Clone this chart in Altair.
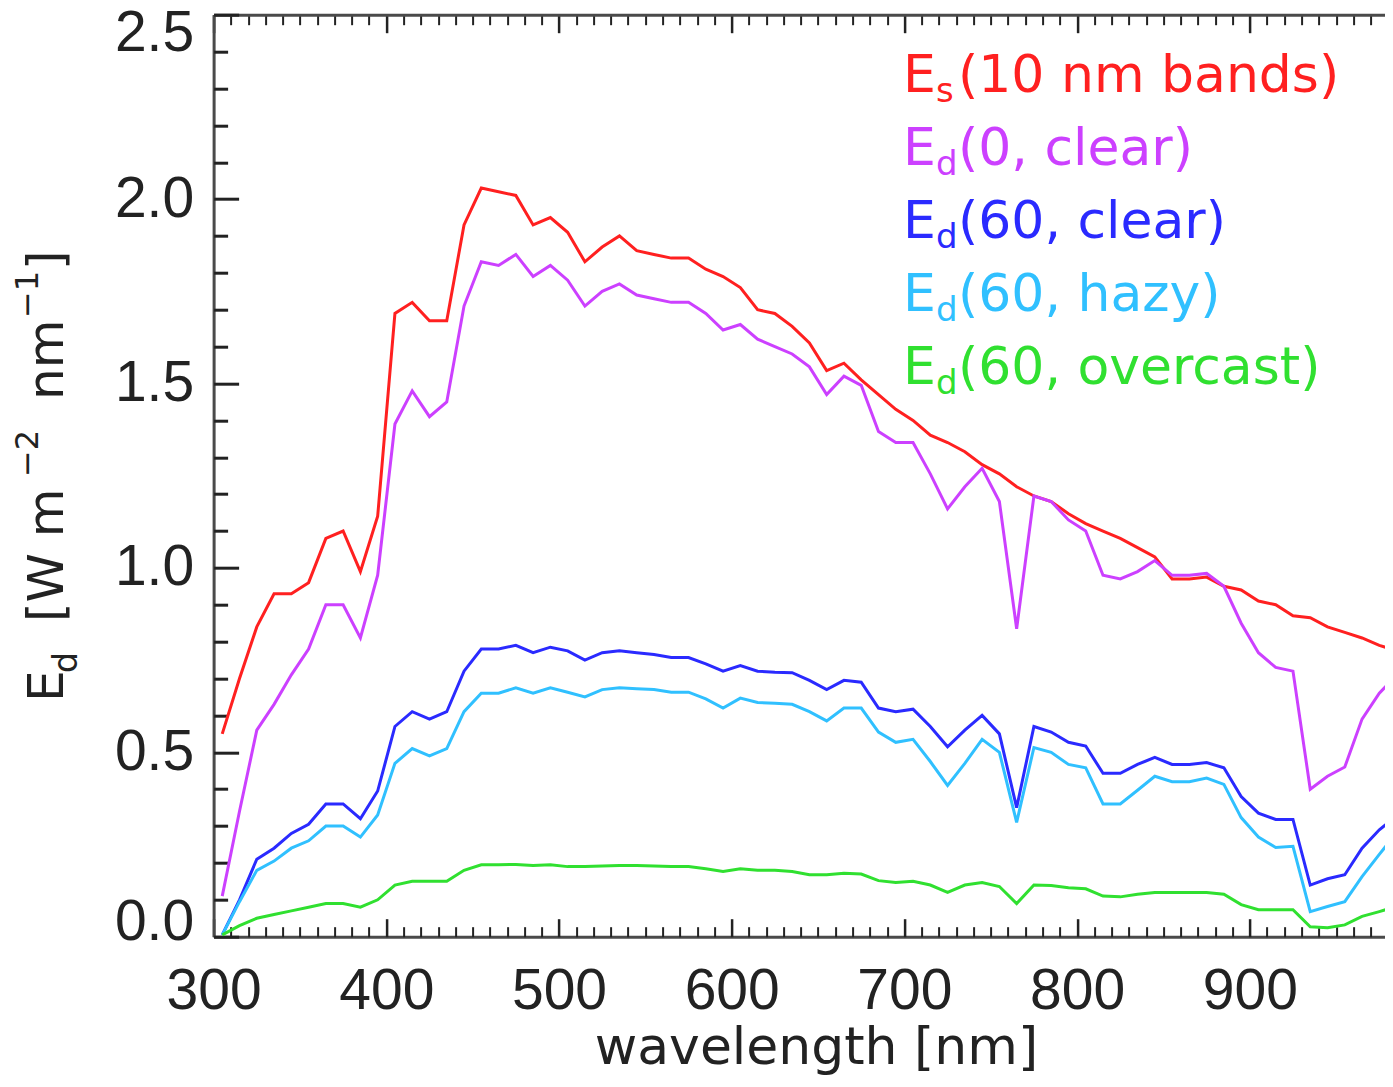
import altair as alt
import pandas as pd

# ---------------- data ----------------
wavelength = list(range(305, 986, 10))  # 10 nm band centres

es_10nm_bands = [0.55, 0.70, 0.84, 0.93, 0.93, 0.96, 1.08, 1.10, 0.99, 1.14,
                 1.69, 1.72, 1.67, 1.67, 1.93, 2.03, 2.02, 2.01, 1.93, 1.95,
                 1.91, 1.83, 1.87, 1.90, 1.86, 1.85, 1.84, 1.84, 1.81, 1.79,
                 1.76, 1.70, 1.69, 1.655, 1.61, 1.535, 1.555, 1.51, 1.47, 1.43,
                 1.40, 1.36, 1.34, 1.315, 1.28, 1.255, 1.22, 1.195, 1.18, 1.147,
                 1.12, 1.10, 1.08, 1.055, 1.03, 0.97, 0.97, 0.975, 0.95, 0.94,
                 0.91, 0.90, 0.87, 0.865, 0.84, 0.825, 0.81, 0.79, 0.775]

ed_0_clear = [0.11, 0.34, 0.56, 0.63, 0.71, 0.78, 0.90, 0.90, 0.81, 0.98,
              1.39, 1.48, 1.41, 1.45, 1.71, 1.83, 1.82, 1.85, 1.79, 1.82,
              1.78, 1.71, 1.75, 1.77, 1.74, 1.73, 1.72, 1.72, 1.69, 1.645,
              1.66, 1.62, 1.60, 1.58, 1.545, 1.47, 1.52, 1.495, 1.37, 1.34,
              1.34, 1.255, 1.16, 1.22, 1.27, 1.18, 0.835, 1.195, 1.18, 1.13,
              1.10, 0.98, 0.97, 0.99, 1.02, 0.98, 0.98, 0.985, 0.95, 0.85,
              0.77, 0.73, 0.72, 0.40, 0.435, 0.46, 0.59, 0.66, 0.71]

ed_60_clear = [0.005, 0.10, 0.21, 0.24, 0.28, 0.305, 0.36, 0.36, 0.32, 0.395,
               0.57, 0.61, 0.59, 0.61, 0.72, 0.78, 0.78, 0.79, 0.77, 0.785,
               0.775, 0.75, 0.77, 0.775, 0.77, 0.765, 0.757, 0.757, 0.74, 0.72,
               0.735, 0.72, 0.717, 0.716, 0.695, 0.67, 0.695, 0.69, 0.62, 0.61,
               0.617, 0.57, 0.515, 0.56, 0.60, 0.55, 0.35, 0.57, 0.555, 0.527,
               0.517, 0.443, 0.443, 0.467, 0.486, 0.467, 0.467, 0.472, 0.458, 0.38,
               0.335, 0.318, 0.318, 0.14, 0.157, 0.168, 0.24, 0.29, 0.327]

ed_60_hazy = [0.005, 0.095, 0.18, 0.205, 0.24, 0.26, 0.30, 0.30, 0.27, 0.33,
              0.47, 0.51, 0.49, 0.51, 0.61, 0.66, 0.66, 0.675, 0.66, 0.675,
              0.663, 0.65, 0.67, 0.675, 0.672, 0.67, 0.663, 0.663, 0.645, 0.62,
              0.647, 0.635, 0.633, 0.63, 0.61, 0.585, 0.62, 0.62, 0.555, 0.527,
              0.535, 0.475, 0.41, 0.47, 0.535, 0.50, 0.31, 0.513, 0.50, 0.467,
              0.458, 0.36, 0.36, 0.397, 0.435, 0.42, 0.42, 0.43, 0.413, 0.323,
              0.27, 0.242, 0.245, 0.068, 0.082, 0.095, 0.163, 0.223, 0.282]

ed_60_overcast = [0.005, 0.03, 0.05, 0.06, 0.07, 0.08, 0.09, 0.09, 0.08, 0.10,
                  0.14, 0.15, 0.15, 0.15, 0.18, 0.195, 0.195, 0.196, 0.193, 0.195,
                  0.19, 0.19, 0.192, 0.193, 0.193, 0.192, 0.19, 0.19, 0.184, 0.177,
                  0.184, 0.18, 0.18, 0.177, 0.168, 0.168, 0.172, 0.17, 0.152, 0.147,
                  0.15, 0.14, 0.12, 0.14, 0.147, 0.136, 0.09, 0.14, 0.139, 0.133,
                  0.13, 0.11, 0.108, 0.115, 0.12, 0.12, 0.12, 0.12, 0.115, 0.087,
                  0.073, 0.073, 0.073, 0.027, 0.024, 0.032, 0.055, 0.068, 0.082]

series_names = ["Es(10 nm bands)", "Ed(0, clear)", "Ed(60, clear)",
                "Ed(60, hazy)", "Ed(60, overcast)"]
series_values = [es_10nm_bands, ed_0_clear, ed_60_clear, ed_60_hazy, ed_60_overcast]
series_colors = ["#ff2020", "#cc40ff", "#2a2aff", "#30c0ff", "#30e030"]

# legend texts: (main symbol, subscript, rest)
legend_sub = ["s", "d", "d", "d", "d"]
legend_rest = ["(10 nm bands)", "(0, clear)", "(60, clear)", "(60, hazy)", "(60, overcast)"]

x_major = [300, 400, 500, 600, 700, 800, 900]
y_major = [0.0, 0.5, 1.0, 1.5, 2.0, 2.5]

rows = []
for name, vals in zip(series_names, series_values):
    for w, v in zip(wavelength, vals):
        rows.append({"wavelength": w, "Ed": v, "series": name})
df = pd.DataFrame(rows)

# ---------------- layout ----------------
PLOT_LEFT = 213.6   # page px of plot left edge
PLOT_TOP = 14.7
PX_PER_NM = 1.727
W = 1171.4
H = 922
X_MAX = 300 + W / PX_PER_NM

x_minor = [w for w in range(310, 1000, 10) if w % 100 and w < X_MAX]
y_minor = [round(i * 0.1, 1) for i in range(1, 25) if i % 5]

xscale = alt.Scale(domain=[300, X_MAX], nice=False, zero=False)
yscale = alt.Scale(domain=[0, 2.5], nice=False, zero=False)

AXIS_GRAY = "#4a4a4a"
TICK_COL = "#222222"
TEXT_COL = "#222222"
TICK_FONT = "Liberation Sans"
TXT_FONT = "DejaVu Sans"

lines = alt.Chart(df).mark_line(strokeWidth=3, clip=True).encode(
    x=alt.X("wavelength:Q", scale=xscale,
            axis=alt.Axis(orient="bottom", values=x_major, format="d", ticks=False,
                          domain=True, domainColor=AXIS_GRAY, domainWidth=3,
                          labelFont=TICK_FONT, labelFontSize=57, labelColor=TEXT_COL,
                          labelPadding=27, labelFlush=False, labelOverlap=False,
                          grid=False, title="wavelength [nm]", titleFont=TXT_FONT,
                          titleFontSize=52, titleFontWeight="normal", titleColor=TEXT_COL,
                          titleX=816 - PLOT_LEFT, titleY=1064 - (PLOT_TOP + H),
                          titleAlign="center", titleBaseline="alphabetic")),
    y=alt.Y("Ed:Q", scale=yscale,
            axis=alt.Axis(orient="left", values=y_major, format=".1f", ticks=False,
                          domain=True, domainColor=AXIS_GRAY, domainWidth=3,
                          labelFont=TICK_FONT, labelFontSize=57, labelColor=TEXT_COL,
                          labelPadding=20, labelBaseline="middle", labelFlush=False,
                          labelOverlap=False,
                          labelOffset={"condition": [{"test": "datum.value >= 2.5", "value": 19},
                                                     {"test": "datum.value <= 0", "value": -14}],
                                       "value": 0},
                          grid=False, title=None)),
    color=alt.Color("series:N", scale=alt.Scale(domain=series_names, range=series_colors),
                    legend=None),
)


def axis_layer(xaxis, yaxis):
    return alt.Chart(df).mark_point(opacity=0).encode(
        x=alt.X("wavelength:Q", scale=xscale, axis=xaxis),
        y=alt.Y("Ed:Q", scale=yscale, axis=yaxis),
    )


def tick_axis(orient, values, size, width):
    return alt.Axis(orient=orient, values=values, offset=-size, tickSize=size,
                    tickWidth=width, tickColor=TICK_COL, labels=False, domain=False,
                    grid=False, title=None)


layers = [
    lines,
    axis_layer(None, tick_axis("left", y_major, 25, 3)),
    axis_layer(None, tick_axis("left", y_minor, 14, 3)),
    axis_layer(tick_axis("bottom", x_major, 18, 2.5), None),
    axis_layer(tick_axis("bottom", x_minor, 10, 2), None),
    axis_layer(tick_axis("top", x_major, 18, 2.5), None),
    axis_layer(tick_axis("top", x_minor, 10, 2), None),
    axis_layer(alt.Axis(orient="top", ticks=False, labels=False, domain=True,
                        domainColor=AXIS_GRAY, domainWidth=3, grid=False, title=None), None),
]


def piece(text, px, py, size, color, angle=0):
    return alt.Chart(pd.DataFrame({"t": [text]})).mark_text(
        text=text, font=TXT_FONT, fontSize=size, color=color, align="left",
        baseline="alphabetic", angle=angle,
    ).encode(x=alt.value(px - PLOT_LEFT), y=alt.value(py - PLOT_TOP))


# legend (coloured text, top right)
LEG_X = 903
LEG_Y0 = 92
LEG_DY = 73
for i, (sub, rest, col) in enumerate(zip(legend_sub, legend_rest, series_colors)):
    base = LEG_Y0 + i * LEG_DY
    layers.append(piece("E", LEG_X, base, 52, col))
    layers.append(piece(sub, LEG_X + 33, base + 10, 34, col))
    layers.append(piece(rest, LEG_X + 55, base, 52, col))

# y axis title, rotated, with sub/superscripts
TX = 63   # baseline (page x) of main text
SX = 38   # baseline of superscripts
layers += [
    piece("E", TX, 702, 50, TEXT_COL, 270),
    piece("d", TX + 14, 673, 33, TEXT_COL, 270),
    piece("[W m", TX, 622, 50, TEXT_COL, 270),
    piece("\u22122", SX, 477, 32, TEXT_COL, 270),
    piece("nm", TX, 400, 50, TEXT_COL, 270),
    piece("\u22121", SX, 318, 32, TEXT_COL, 270),
    piece("]", TX, 270, 50, TEXT_COL, 270),
]

chart = alt.layer(*layers).resolve_axis(x="independent", y="independent").properties(
    width=W, height=H,
    autosize=alt.AutoSizeParams(type="none"),
    padding={"left": PLOT_LEFT - 8, "top": PLOT_TOP - 8, "right": 0, "bottom": 142},
    background="white",
).configure_view(stroke=None)

chart.save("out.html", embed_options={"renderer": "svg", "actions": False})
